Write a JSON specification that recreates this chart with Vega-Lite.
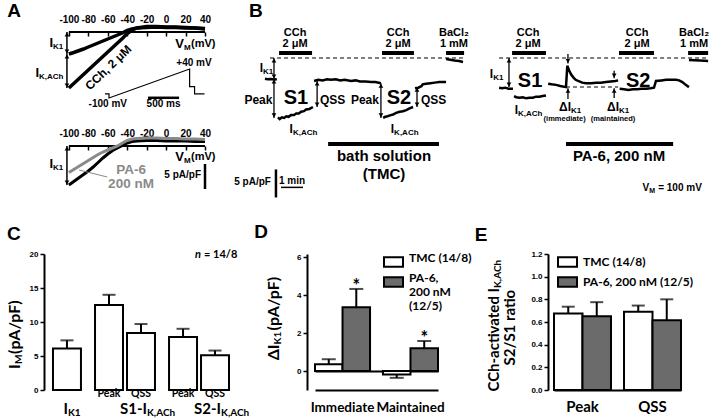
{
"$schema":"https://vega.github.io/schema/vega-lite/v6.json",
"padding":{"left":6,"top":1,"right":0,"bottom":0},
"background":"white",
"config":{
 "view":{"stroke":null},
 "axis":{"grid":false,"domainColor":"black","tickColor":"black","labelColor":"black","labelFont":"Liberation Sans","labelFontWeight":"bold","domainWidth":2,"tickWidth":1.5},
 "text":{"font":"Liberation Sans","fontWeight":"bold","baseline":"middle","color":"black"},
 "rule":{"color":"black"},
 "line":{"color":"black"}
},
"datasets":{
 "cbars":[{"g":"I_K1","s":"QSS","y":6.1,"e":7.3},{"g":"S1","s":"Peak","y":12.5,"e":14.0},{"g":"S1","s":"QSS","y":8.4,"e":9.7},{"g":"S2","s":"Peak","y":7.8,"e":9.0},{"g":"S2","s":"QSS","y":5.1,"e":5.8}],
 "dbars":[{"g":"Immediate","s":"TMC","y":0.36,"e":0.62},{"g":"Immediate","s":"PA-6","y":3.35,"e":4.32},{"g":"Maintained","s":"TMC","y":-0.19,"e":-0.36},{"g":"Maintained","s":"PA-6","y":1.2,"e":1.58}],
 "ebars":[{"g":"Peak","s":"TMC","y":0.675,"e":0.735},{"g":"Peak","s":"PA-6","y":0.65,"e":0.775},{"g":"QSS","s":"TMC","y":0.69,"e":0.745},{"g":"QSS","s":"PA-6","y":0.615,"e":0.8}]
},
"bounds":"full",
"spacing":24,
"resolve":{"scale":{"fill":"independent","color":"independent","xOffset":"independent"},"legend":{"fill":"independent","color":"independent"}},
"vconcat":[
 {
  "bounds":"flush","spacing":56,
  "resolve":{"scale":{"fill":"independent","color":"independent","xOffset":"independent"},"legend":{"fill":"independent","color":"independent"}},
  "hconcat":[
   {
    "width":161,"height":160,
    "resolve":{"scale":{"x":"independent","y":"independent","color":"independent"},"axis":{"x":"independent","y":"independent"}},
    "layer":[
     {
      "encoding":{
       "x":{"field":"x","type":"quantitative","scale":{"domain":[-125.6,40],"nice":false,"zero":false},"axis":{"orient":"top","values":[-100,-80,-60,-40,-20,0,20,40],"labelExpr":"replace(datum.label, '−', '-')","domain":false,"tickSize":-4,"labelPadding":12,"labelFontSize":10,"labelFlush":false,"labelOverlap":false,"title":null}},
       "y":{"field":"y","type":"quantitative","scale":{"domain":[-32,0],"nice":false,"zero":false},"axis":null}
      },
      "layer":[
       {"data":{"values":[{"x":-100,"x2":40,"y":0}]},"mark":{"type":"rule","strokeWidth":2},"encoding":{"x2":{"field":"x2"}}},
       {"data":{"values":[
        {"c":"ctrl","x":-100,"y":-4.4},{"c":"ctrl","x":-95,"y":-4.1},{"c":"ctrl","x":-90,"y":-3.75},{"c":"ctrl","x":-85,"y":-3.4},{"c":"ctrl","x":-80,"y":-3.0},{"c":"ctrl","x":-75,"y":-2.6},{"c":"ctrl","x":-70,"y":-2.2},{"c":"ctrl","x":-65,"y":-1.8},{"c":"ctrl","x":-60,"y":-1.4},{"c":"ctrl","x":-55,"y":-1.0},{"c":"ctrl","x":-50,"y":-0.6},{"c":"ctrl","x":-45,"y":-0.2},{"c":"ctrl","x":-40,"y":0.3},{"c":"ctrl","x":-35,"y":0.6},{"c":"ctrl","x":-30,"y":0.8},{"c":"ctrl","x":-20,"y":0.9},{"c":"ctrl","x":-10,"y":1.0},{"c":"ctrl","x":0,"y":0.9},{"c":"ctrl","x":10,"y":0.9},{"c":"ctrl","x":20,"y":0.8},{"c":"ctrl","x":30,"y":0.8},{"c":"ctrl","x":40,"y":0.7},
        {"c":"cch","x":-100,"y":-11.2},{"c":"cch","x":-95,"y":-10.3},{"c":"cch","x":-90,"y":-9.4},{"c":"cch","x":-85,"y":-8.5},{"c":"cch","x":-80,"y":-7.6},{"c":"cch","x":-75,"y":-6.7},{"c":"cch","x":-70,"y":-5.8},{"c":"cch","x":-65,"y":-4.9},{"c":"cch","x":-60,"y":-4.0},{"c":"cch","x":-55,"y":-3.1},{"c":"cch","x":-50,"y":-2.2},{"c":"cch","x":-45,"y":-1.3},{"c":"cch","x":-40,"y":-0.3},{"c":"cch","x":-35,"y":0.4},{"c":"cch","x":-30,"y":0.8},{"c":"cch","x":-20,"y":1.1},{"c":"cch","x":-10,"y":1.1},{"c":"cch","x":0,"y":1.0},{"c":"cch","x":10,"y":1.0},{"c":"cch","x":20,"y":0.9},{"c":"cch","x":30,"y":0.8},{"c":"cch","x":40,"y":0.6}
       ]},"mark":{"type":"line","strokeWidth":3.5,"color":"black"},"encoding":{"detail":{"field":"c"}}},
       {"data":{"values":[{"x":-102,"y":0,"y2":-4.4},{"x":-102,"y":-4.4,"y2":-11.2}]},"mark":{"type":"rule","strokeWidth":1.5},"encoding":{"y2":{"field":"y2"}}},
       {"data":{"values":[{"x":-102,"y":-0.5,"d":"triangle-up"},{"x":-102,"y":-3.9,"d":"triangle-down"},{"x":-102,"y":-4.9,"d":"triangle-up"},{"x":-102,"y":-10.7,"d":"triangle-down"}]},"mark":{"type":"point","filled":true,"color":"black","size":22,"opacity":1},"encoding":{"shape":{"field":"d","type":"nominal","scale":null}}},
       {"data":{"values":[{"x":-116.3,"y":-2.1,"t":"I"},{"x":-130.7,"y":-8.1,"t":"I"},{"x":18.4,"y":-2.3,"t":"V"}]},"mark":{"type":"text","align":"right","fontSize":13},"encoding":{"text":{"field":"t"}}},
       {"data":{"values":[{"x":-116.3,"y":-2.1,"t":"K1"},{"x":-130.7,"y":-8.1,"t":"K,ACh"},{"x":18.4,"y":-2.3,"t":"M"}]},"mark":{"type":"text","align":"left","fontSize":8,"dy":4},"encoding":{"text":{"field":"t"}}},
       {"data":{"values":[{"x":25.6,"y":-2.3,"t":"(mV)"}]},"mark":{"type":"text","align":"left","fontSize":11},"encoding":{"text":{"field":"t"}}},
       {"data":{"values":[{"x":-59.4,"y":-7.1,"t":"CCh, 2 μM"}]},"mark":{"type":"text","angle":316,"fontSize":12},"encoding":{"text":{"field":"t"}}},
       {"data":{"values":[{"x":-156.4,"y":4.2,"t":"A"}]},"mark":{"type":"text","fontSize":19},"encoding":{"text":{"field":"t"}}}
      ]
     },
     {
      "encoding":{
       "x":{"field":"x","type":"quantitative","scale":{"domain":[-1048,1548],"nice":false,"zero":false},"axis":null},
       "y":{"field":"y","type":"quantitative","scale":{"domain":[-554,218.8],"nice":false,"zero":false},"axis":null}
      },
      "layer":[
       {"data":{"values":[{"i":0,"x":-64,"y":-80},{"i":1,"x":0,"y":-80},{"i":2,"x":0,"y":-100},{"i":3,"x":1300,"y":40},{"i":4,"x":1300,"y":-45},{"i":5,"x":1380,"y":-45},{"i":6,"x":1380,"y":-80},{"i":7,"x":1540,"y":-80}]},"mark":{"type":"line","strokeWidth":1.2,"color":"black"},"encoding":{"order":{"field":"i","type":"quantitative"}}},
       {"data":{"values":[{"x":630,"x2":1130,"y":-99}]},"mark":{"type":"rule","strokeWidth":2.5},"encoding":{"x2":{"field":"x2"}}},
       {"data":{"values":[{"x":-20,"y":-127,"t":"-100 mV"},{"x":880,"y":-127,"t":"500 ms"},{"x":1370,"y":69,"t":"+40 mV"}]},"mark":{"type":"text","fontSize":10},"encoding":{"text":{"field":"t"}}}
      ]
     },
     {
      "encoding":{
       "x":{"field":"x","type":"quantitative","scale":{"domain":[-125.6,40],"nice":false,"zero":false},"axis":{"orient":"bottom","offset":-46,"values":[-100,-80,-60,-40,-20,0,20,40],"labelExpr":"replace(datum.label, '−', '-')","domain":false,"tickSize":4,"labelPadding":-21.5,"labelFontSize":10,"labelFlush":false,"labelOverlap":false,"title":null}},
       "y":{"field":"y","type":"quantitative","scale":{"domain":[-9.2,22.8],"nice":false,"zero":false},"axis":null}
      },
      "layer":[
       {"data":{"values":[{"x":-100,"x2":40,"y":0}]},"mark":{"type":"rule","strokeWidth":2},"encoding":{"x2":{"field":"x2"}}},
       {"data":{"values":[
        {"c":"Control","x":-100,"y":-7.8},{"c":"Control","x":-95,"y":-7.1},{"c":"Control","x":-90,"y":-6.4},{"c":"Control","x":-85,"y":-5.7},{"c":"Control","x":-80,"y":-5.0},{"c":"Control","x":-75,"y":-4.2},{"c":"Control","x":-70,"y":-3.3},{"c":"Control","x":-65,"y":-2.4},{"c":"Control","x":-60,"y":-1.6},{"c":"Control","x":-55,"y":-0.9},{"c":"Control","x":-50,"y":-0.4},{"c":"Control","x":-46,"y":0},{"c":"Control","x":-40,"y":0.6},{"c":"Control","x":-35,"y":0.9},{"c":"Control","x":-30,"y":1.0},{"c":"Control","x":-20,"y":1.1},{"c":"Control","x":-10,"y":1.1},{"c":"Control","x":0,"y":1.0},{"c":"Control","x":10,"y":1.0},{"c":"Control","x":20,"y":1.0},{"c":"Control","x":30,"y":0.9},{"c":"Control","x":40,"y":0.9},
        {"c":"PA-6","x":-100,"y":-5.3},{"c":"PA-6","x":-95,"y":-4.7},{"c":"PA-6","x":-90,"y":-4.1},{"c":"PA-6","x":-85,"y":-3.5},{"c":"PA-6","x":-80,"y":-2.9},{"c":"PA-6","x":-75,"y":-2.3},{"c":"PA-6","x":-70,"y":-1.7},{"c":"PA-6","x":-65,"y":-1.2},{"c":"PA-6","x":-60,"y":-0.8},{"c":"PA-6","x":-55,"y":-0.4},{"c":"PA-6","x":-50,"y":0},{"c":"PA-6","x":-45,"y":0.6},{"c":"PA-6","x":-40,"y":1.1},{"c":"PA-6","x":-35,"y":1.4},{"c":"PA-6","x":-30,"y":1.5},{"c":"PA-6","x":-20,"y":1.6},{"c":"PA-6","x":-10,"y":1.6},{"c":"PA-6","x":0,"y":1.5},{"c":"PA-6","x":10,"y":1.5},{"c":"PA-6","x":20,"y":1.4},{"c":"PA-6","x":30,"y":1.4},{"c":"PA-6","x":40,"y":1.3}
       ]},"mark":{"type":"line","strokeWidth":3},"encoding":{"color":{"field":"c","type":"nominal","scale":{"domain":["Control","PA-6"],"range":["black","#8a8a8a"]},"legend":null}}},
       {"data":{"values":[{"x":-102,"y":0,"y2":-7.8}]},"mark":{"type":"rule","strokeWidth":1.5},"encoding":{"y2":{"field":"y2"}}},
       {"data":{"values":[{"x":-102,"y":-0.5,"d":"triangle-up"},{"x":-102,"y":-7.3,"d":"triangle-down"}]},"mark":{"type":"point","filled":true,"color":"black","size":22,"opacity":1},"encoding":{"shape":{"field":"d","type":"nominal","scale":null}}},
       {"data":{"values":[{"x":-116.3,"y":-3.6,"t":"I"},{"x":18.4,"y":-2.2,"t":"V"}]},"mark":{"type":"text","align":"right","fontSize":13},"encoding":{"text":{"field":"t"}}},
       {"data":{"values":[{"x":-116.3,"y":-3.6,"t":"K1"},{"x":18.4,"y":-2.2,"t":"M"}]},"mark":{"type":"text","align":"left","fontSize":8,"dy":4},"encoding":{"text":{"field":"t"}}},
       {"data":{"values":[{"x":25.6,"y":-2.2,"t":"(mV)"}]},"mark":{"type":"text","align":"left","fontSize":11},"encoding":{"text":{"field":"t"}}},
       {"data":{"values":[{"x":-36.1,"y":-4.85,"t":"PA-6"},{"x":-36.1,"y":-7.6,"t":"200 nM"}]},"mark":{"type":"text","fontSize":13.5,"color":"#8a8a8a"},"encoding":{"text":{"field":"t"}}},
       {"data":{"values":[{"x":-89.6,"y":-4.8,"x2":-60.5,"y2":-6.2}]},"mark":{"type":"rule","strokeWidth":1,"color":"#8a8a8a"},"encoding":{"x2":{"field":"x2"},"y2":{"field":"y2"}}},
       {"data":{"values":[{"x":40,"y":-3.6,"y2":-8.6}]},"mark":{"type":"rule","strokeWidth":2.5},"encoding":{"y2":{"field":"y2"}}},
       {"data":{"values":[{"x":35.9,"y":-5.7,"t":"5 pA/pF"}]},"mark":{"type":"text","align":"right","fontSize":10},"encoding":{"text":{"field":"t"}}}
      ]
     }
    ]
   },
   {
    "width":448,"height":164,
    "encoding":{
     "x":{"field":"x","type":"quantitative","scale":{"domain":[0,20.36],"nice":false,"zero":false},"axis":null},
     "y":{"field":"y","type":"quantitative","scale":{"domain":[-24.64,4.64],"nice":false,"zero":false},"axis":null}
    },
    "layer":[
     {"data":{"values":[{"x":0.41,"x2":9.18,"y":0},{"x":10.82,"x2":20.32,"y":0},{"x":13.86,"x2":16.23,"y":-5.18}]},"mark":{"type":"rule","strokeWidth":1,"strokeDash":[4,3]},"encoding":{"x2":{"field":"x2"}}},
     {"data":{"values":[{"x":0.82,"x2":2.32,"y":0.89},{"x":5.5,"x2":6.95,"y":0.89},{"x":8.41,"x2":9.23,"y":0.89},{"x":11.41,"x2":12.95,"y":0.89},{"x":16.27,"x2":17.86,"y":0.89},{"x":19.41,"x2":20.32,"y":0.89},{"x":3.05,"x2":8.09,"y":-15.36},{"x":13.86,"x2":18.73,"y":-15.36}]},"mark":{"type":"rule","strokeWidth":4},"encoding":{"x2":{"field":"x2"}}},
     {"data":{"values":[
      {"seg":"L1","x":0.18,"y":-3.7},{"seg":"L1","x":0.3,"y":-3.8},{"seg":"L1","x":0.45,"y":-3.75},{"seg":"L1","x":0.6,"y":-3.85},{"seg":"L1","x":0.72,"y":-3.8},
      {"seg":"L2","x":0.77,"y":-10.6},{"seg":"L2","x":0.85,"y":-10.9},{"seg":"L2","x":0.95,"y":-10.6},{"seg":"L2","x":1.05,"y":-10.7},{"seg":"L2","x":1.15,"y":-10.4},{"seg":"L2","x":1.25,"y":-10.5},{"seg":"L2","x":1.36,"y":-10.2},{"seg":"L2","x":1.5,"y":-10.2},{"seg":"L2","x":1.6,"y":-9.9},{"seg":"L2","x":1.72,"y":-9.9},{"seg":"L2","x":1.82,"y":-9.6},{"seg":"L2","x":1.95,"y":-9.5},{"seg":"L2","x":2.05,"y":-9.2},{"seg":"L2","x":2.2,"y":-9.1},{"seg":"L2","x":2.36,"y":-8.75},
      {"seg":"L3","x":2.41,"y":-4.1},{"seg":"L3","x":2.6,"y":-3.9},{"seg":"L3","x":2.8,"y":-4.0},{"seg":"L3","x":3.0,"y":-3.8},{"seg":"L3","x":3.18,"y":-3.9},{"seg":"L3","x":3.4,"y":-3.8},{"seg":"L3","x":3.6,"y":-4.0},{"seg":"L3","x":3.8,"y":-3.9},{"seg":"L3","x":4.09,"y":-4.1},{"seg":"L3","x":4.3,"y":-4.0},{"seg":"L3","x":4.5,"y":-4.2},{"seg":"L3","x":4.75,"y":-4.2},{"seg":"L3","x":5.0,"y":-4.3},{"seg":"L3","x":5.2,"y":-4.3},{"seg":"L3","x":5.45,"y":-4.5},
      {"seg":"L4","x":5.55,"y":-10.7},{"seg":"L4","x":5.65,"y":-10.5},{"seg":"L4","x":5.75,"y":-10.4},{"seg":"L4","x":5.9,"y":-10.2},{"seg":"L4","x":6.0,"y":-10.1},{"seg":"L4","x":6.14,"y":-9.8},{"seg":"L4","x":6.3,"y":-9.6},{"seg":"L4","x":6.45,"y":-9.5},{"seg":"L4","x":6.6,"y":-9.3},{"seg":"L4","x":6.75,"y":-9.0},{"seg":"L4","x":6.91,"y":-8.75},
      {"seg":"L5","x":7.0,"y":-5.4},{"seg":"L5","x":7.15,"y":-5.3},{"seg":"L5","x":7.3,"y":-5.0},{"seg":"L5","x":7.35,"y":-4.7},{"seg":"L5","x":7.5,"y":-4.6},{"seg":"L5","x":7.7,"y":-4.5},{"seg":"L5","x":7.9,"y":-4.4},{"seg":"L5","x":8.1,"y":-4.3},{"seg":"L5","x":8.41,"y":-4.3},
      {"seg":"L6","x":8.41,"y":-0.2},{"seg":"L6","x":8.6,"y":-0.3},{"seg":"L6","x":8.8,"y":-0.45},{"seg":"L6","x":9.0,"y":-0.55},{"seg":"L6","x":9.18,"y":-0.7},
      {"seg":"R1","x":10.82,"y":-5.3},{"seg":"R1","x":10.95,"y":-5.4},{"seg":"R1","x":11.1,"y":-5.3},{"seg":"R1","x":11.25,"y":-5.5},{"seg":"R1","x":11.45,"y":-5.5},
      {"seg":"R2","x":11.5,"y":-6.8},{"seg":"R2","x":11.6,"y":-7.0},{"seg":"R2","x":11.75,"y":-7.1},{"seg":"R2","x":11.9,"y":-7.0},{"seg":"R2","x":12.05,"y":-7.2},{"seg":"R2","x":12.2,"y":-7.1},{"seg":"R2","x":12.35,"y":-7.1},{"seg":"R2","x":12.5,"y":-6.9},{"seg":"R2","x":12.65,"y":-6.9},{"seg":"R2","x":12.8,"y":-6.8},{"seg":"R2","x":12.95,"y":-6.7},
      {"seg":"R3","x":13.05,"y":-4.6},{"seg":"R3","x":13.2,"y":-4.7},{"seg":"R3","x":13.41,"y":-4.8},{"seg":"R3","x":13.6,"y":-5.0},{"seg":"R3","x":13.86,"y":-5.2},{"seg":"R3","x":13.92,"y":-1.4},{"seg":"R3","x":14.0,"y":-2.2},{"seg":"R3","x":14.09,"y":-2.9},{"seg":"R3","x":14.2,"y":-3.5},{"seg":"R3","x":14.3,"y":-3.9},{"seg":"R3","x":14.41,"y":-4.1},{"seg":"R3","x":14.6,"y":-4.4},{"seg":"R3","x":14.77,"y":-4.5},{"seg":"R3","x":15.0,"y":-4.5},{"seg":"R3","x":15.23,"y":-4.4},{"seg":"R3","x":15.45,"y":-4.4},{"seg":"R3","x":15.68,"y":-4.3},{"seg":"R3","x":15.9,"y":-4.2},{"seg":"R3","x":16.1,"y":-4.1},{"seg":"R3","x":16.23,"y":-4.0},
      {"seg":"R4","x":16.3,"y":-5.5},{"seg":"R4","x":16.5,"y":-5.6},{"seg":"R4","x":16.7,"y":-5.7},{"seg":"R4","x":16.9,"y":-5.6},{"seg":"R4","x":17.1,"y":-5.6},{"seg":"R4","x":17.3,"y":-5.5},{"seg":"R4","x":17.5,"y":-5.5},{"seg":"R4","x":17.7,"y":-5.4},{"seg":"R4","x":17.86,"y":-5.3},{"seg":"R4","x":17.95,"y":-4.1},{"seg":"R4","x":18.2,"y":-4.0},{"seg":"R4","x":18.41,"y":-3.9},{"seg":"R4","x":18.6,"y":-3.9},{"seg":"R4","x":18.86,"y":-3.9},{"seg":"R4","x":19.0,"y":-4.0},{"seg":"R4","x":19.15,"y":-4.3},{"seg":"R4","x":19.3,"y":-4.8},{"seg":"R4","x":19.45,"y":-5.2},
      {"seg":"R5","x":19.45,"y":-0.35},{"seg":"R5","x":19.7,"y":-0.4},{"seg":"R5","x":19.95,"y":-0.45},{"seg":"R5","x":20.15,"y":-0.5},{"seg":"R5","x":20.32,"y":-0.55}
     ]},"mark":{"type":"line","strokeWidth":2.5,"color":"black"},"encoding":{"detail":{"field":"seg"}}},
     {"data":{"values":[{"x":0.59,"y":0,"y2":-3.75},{"x":0.59,"y":-3.75,"y2":-10.7},{"x":2.55,"y":-4.1,"y2":-8.75},{"x":5.45,"y":-4.5,"y2":-10.7},{"x":7.09,"y":-5.2,"y2":-8.75},{"x":11.27,"y":0,"y2":-5.2},{"x":13.95,"y":0.7,"y2":-1.0},{"x":13.95,"y":-7.3,"y2":-5.4},{"x":16.05,"y":-2.3,"y2":-3.6},{"x":16.05,"y":-7.14,"y2":-5.4}]},"mark":{"type":"rule","strokeWidth":1.3},"encoding":{"y2":{"field":"y2"}}},
     {"data":{"values":[{"x":0.59,"y":-0.45,"d":"triangle-up"},{"x":0.59,"y":-3.3,"d":"triangle-down"},{"x":0.59,"y":-4.2,"d":"triangle-up"},{"x":0.59,"y":-10.25,"d":"triangle-down"},{"x":2.55,"y":-4.55,"d":"triangle-up"},{"x":2.55,"y":-8.3,"d":"triangle-down"},{"x":5.45,"y":-4.95,"d":"triangle-up"},{"x":5.45,"y":-10.25,"d":"triangle-down"},{"x":7.09,"y":-5.65,"d":"triangle-up"},{"x":7.09,"y":-8.3,"d":"triangle-down"},{"x":11.27,"y":-0.45,"d":"triangle-up"},{"x":11.27,"y":-4.75,"d":"triangle-down"},{"x":13.95,"y":-0.55,"d":"triangle-down"},{"x":13.95,"y":-5.85,"d":"triangle-up"},{"x":16.05,"y":-3.15,"d":"triangle-down"},{"x":16.05,"y":-5.85,"d":"triangle-up"}]},"mark":{"type":"point","filled":true,"color":"black","size":22,"opacity":1},"encoding":{"shape":{"field":"d","type":"nominal","scale":null}}},
     {"data":{"values":[{"x":0.68,"y":-19.9,"y2":-24.9}]},"mark":{"type":"rule","strokeWidth":2.5},"encoding":{"y2":{"field":"y2"}}},
     {"data":{"values":[{"x":0.91,"x2":1.91,"y":-23.1}]},"mark":{"type":"rule","strokeWidth":1.5},"encoding":{"x2":{"field":"x2"}}},
     {"data":{"values":[{"x":1.55,"y":4.5,"t":"CCh"},{"x":1.55,"y":2.45,"t":"2 μM"},{"x":6.23,"y":4.5,"t":"CCh"},{"x":6.23,"y":2.45,"t":"2 μM"},{"x":8.77,"y":4.5,"t":"BaCl₂"},{"x":8.77,"y":2.45,"t":"1 mM"},{"x":12.14,"y":4.5,"t":"CCh"},{"x":12.14,"y":2.45,"t":"2 μM"},{"x":17.09,"y":4.5,"t":"CCh"},{"x":17.09,"y":2.45,"t":"2 μM"},{"x":19.68,"y":4.5,"t":"BaCl₂"},{"x":19.68,"y":2.45,"t":"1 mM"}]},"mark":{"type":"text","fontSize":11},"encoding":{"text":{"field":"t"}}},
     {"data":{"values":[{"x":0.52,"y":-7.5,"t":"Peak"},{"x":5.36,"y":-7.5,"t":"Peak"},{"x":0.09,"y":-1.79,"t":"I"},{"x":1.45,"y":-12.7,"t":"I"},{"x":6.05,"y":-12.7,"t":"I"},{"x":10.55,"y":-2.8,"t":"I"},{"x":11.68,"y":-9.2,"t":"I"},{"x":14.09,"y":-8.75,"t":"ΔI"},{"x":16.27,"y":-8.75,"t":"ΔI"}]},"mark":{"type":"text","align":"right","fontSize":12},"encoding":{"text":{"field":"t"}}},
     {"data":{"values":[{"x":0.09,"y":-1.79,"t":"K1"},{"x":1.45,"y":-12.7,"t":"K,ACh"},{"x":6.05,"y":-12.7,"t":"K,ACh"},{"x":10.55,"y":-2.8,"t":"K1"},{"x":11.68,"y":-9.2,"t":"K,ACh"},{"x":14.09,"y":-8.75,"t":"K1"},{"x":16.27,"y":-8.75,"t":"K1"}]},"mark":{"type":"text","align":"left","fontSize":8,"dy":4},"encoding":{"text":{"field":"t"}}},
     {"data":{"values":[{"x":2.68,"y":-7.5,"t":"QSS"},{"x":7.27,"y":-7.5,"t":"QSS"}]},"mark":{"type":"text","align":"left","fontSize":12},"encoding":{"text":{"field":"t"}}},
     {"data":{"values":[{"x":1.59,"y":-7.1,"t":"S1"},{"x":6.27,"y":-7.1,"t":"S2"},{"x":12.23,"y":-4.1,"t":"S1"},{"x":17.14,"y":-4.1,"t":"S2"}]},"mark":{"type":"text","fontSize":20},"encoding":{"text":{"field":"t"}}},
     {"data":{"values":[{"x":5.59,"y":-17.5,"t":"bath solution"},{"x":5.59,"y":-20.7,"t":"(TMC)"},{"x":16.27,"y":-17.5,"t":"PA-6, 200 nM"}]},"mark":{"type":"text","fontSize":15},"encoding":{"text":{"field":"t"}}},
     {"data":{"values":[{"x":13.8,"y":-10.95,"t":"(immediate)"},{"x":16.0,"y":-10.95,"t":"(maintained)"}]},"mark":{"type":"text","fontSize":7.5},"encoding":{"text":{"field":"t"}}},
     {"data":{"values":[{"x":0.45,"y":-22.2,"t":"5 pA/pF"},{"x":17.64,"y":-23.3,"t":"V"}]},"mark":{"type":"text","align":"right","fontSize":10},"encoding":{"text":{"field":"t"}}},
     {"data":{"values":[{"x":1.41,"y":-22.0,"t":"1 min"}]},"mark":{"type":"text","fontSize":10},"encoding":{"text":{"field":"t"}}},
     {"data":{"values":[{"x":17.64,"y":-23.3,"t":"M"}]},"mark":{"type":"text","align":"left","fontSize":7,"dy":3},"encoding":{"text":{"field":"t"}}},
     {"data":{"values":[{"x":18.05,"y":-23.3,"t":"= 100 mV"}]},"mark":{"type":"text","align":"left","fontSize":10},"encoding":{"text":{"field":"t"}}},
     {"data":{"values":[{"x":-0.23,"y":8.4,"t":"B"}]},"mark":{"type":"text","fontSize":19},"encoding":{"text":{"field":"t"}}}
    ]
   }
  ]
 },
 {
  "bounds":"flush","spacing":111,
  "resolve":{"scale":{"fill":"independent","color":"independent","xOffset":"independent"},"legend":{"fill":"independent","color":"independent"}},
  "hconcat":[
   {
    "width":152,"height":136,
    "encoding":{
     "x":{"field":"g","type":"nominal","scale":{"domain":["I_K1","S1","S2"],"range":[-23,185],"paddingInner":0.19,"paddingOuter":0},"axis":null},
     "y":{"field":"y","type":"quantitative","scale":{"domain":[0,20],"nice":false},"axis":{"values":[0,5,10,15,20],"labelFontSize":8,"tickSize":4,"labelPadding":2,"title":null}}
    },
    "layer":[
     {"data":{"name":"cbars"},"mark":{"type":"rule","strokeWidth":2},"encoding":{"xOffset":{"field":"s","type":"nominal","scale":{"domain":["Peak","QSS"],"paddingInner":0.125,"paddingOuter":0}},"y2":{"field":"e"}}},
     {"data":{"name":"cbars"},"mark":{"type":"tick","size":13,"thickness":2,"color":"black"},"encoding":{"xOffset":{"field":"s","type":"nominal","scale":{"domain":["Peak","QSS"],"paddingInner":0.125,"paddingOuter":0}},"y":{"field":"e","type":"quantitative","scale":{"domain":[0,20],"nice":false},"axis":{"values":[0,5,10,15,20],"labelFontSize":8,"tickSize":4,"labelPadding":2,"title":null}}}},
     {"data":{"name":"cbars"},"mark":{"type":"bar","fill":"white","stroke":"black","strokeWidth":2},"encoding":{"xOffset":{"field":"s","type":"nominal","scale":{"domain":["Peak","QSS"],"paddingInner":0.125,"paddingOuter":0}}}},
     {"data":{"values":[{"g":"S1","s":"Peak","y":-0.6,"t":"Peak"},{"g":"S1","s":"QSS","y":-0.6,"t":"QSS"},{"g":"S2","s":"Peak","y":-0.6,"t":"Peak"},{"g":"S2","s":"QSS","y":-0.6,"t":"QSS"}]},"mark":{"type":"text","font":"Lato","fontSize":10.5},"encoding":{"xOffset":{"field":"s","type":"nominal","scale":{"domain":["Peak","QSS"],"paddingInner":0.125,"paddingOuter":0}},"text":{"field":"t"}}},
     {"data":{"values":[{"g":"I_K1","s":"QSS","y":-2.8,"t":"I"}]},"mark":{"type":"text","font":"Lato","fontSize":15,"align":"right","dx":1},"encoding":{"xOffset":{"field":"s","type":"nominal","scale":{"domain":["Peak","QSS"],"paddingInner":0.125,"paddingOuter":0}},"text":{"field":"t"}}},
     {"data":{"values":[{"g":"I_K1","s":"QSS","y":-2.8,"t":"K1"}]},"mark":{"type":"text","font":"Lato","fontSize":10,"align":"left","dx":1,"dy":4},"encoding":{"xOffset":{"field":"s","type":"nominal","scale":{"domain":["Peak","QSS"],"paddingInner":0.125,"paddingOuter":0}},"text":{"field":"t"}}},
     {"data":{"values":[{"g":"S1","y":-2.8,"t":"S1-I"},{"g":"S2","y":-2.8,"t":"S2-I"}]},"mark":{"type":"text","font":"Lato","fontSize":15,"align":"right","dx":22},"encoding":{"text":{"field":"t"}}},
     {"data":{"values":[{"g":"S1","y":-2.8,"t":"K,ACh"},{"g":"S2","y":-2.8,"t":"K,ACh"}]},"mark":{"type":"text","font":"Lato","fontSize":10,"align":"left","dx":22,"dy":4},"encoding":{"text":{"field":"t"}}},
     {"data":{"values":[{"g":"I_K1","y":3.1,"t":"I"}]},"mark":{"type":"text","font":"Lato","fontSize":16,"angle":270,"align":"left","dy":-36},"encoding":{"text":{"field":"t"}}},
     {"data":{"values":[{"g":"I_K1","y":3.1,"t":"M"}]},"mark":{"type":"text","font":"Lato","fontSize":10,"angle":270,"align":"left","dx":5,"dy":-32},"encoding":{"text":{"field":"t"}}},
     {"data":{"values":[{"g":"I_K1","y":3.1,"t":"(pA/pF)"}]},"mark":{"type":"text","font":"Lato","fontSize":16,"angle":270,"align":"left","dx":15,"dy":-36},"encoding":{"text":{"field":"t"}}},
     {"data":{"values":[{"g":"I_K1","y":22.9,"t":"C"}]},"mark":{"type":"text","fontSize":19,"dx":-37},"encoding":{"text":{"field":"t"}}},
     {"data":{"values":[{"g":"S2","y":19.9,"t":"n"}]},"mark":{"type":"text","font":"Lato","fontSize":11,"fontStyle":"italic","align":"right","dx":2},"encoding":{"text":{"field":"t"}}},
     {"data":{"values":[{"g":"S2","y":19.9,"t":"= 14/8"}]},"mark":{"type":"text","font":"Lato","fontSize":11,"align":"left","dx":5},"encoding":{"text":{"field":"t"}}}
    ]
   },
   {
    "width":130,"height":136,
    "encoding":{
     "x":{"field":"g","type":"nominal","scale":{"domain":["Immediate","Maintained"],"range":[8,131],"paddingInner":0.19,"paddingOuter":0},"axis":{"orient":"bottom","ticks":false,"domain":false,"labelFont":"Lato","labelFontSize":13.5,"labelPadding":10,"labelAngle":0,"title":null}},
     "y":{"field":"y","type":"quantitative","scale":{"domain":[-1,6.16],"nice":false,"zero":false},"axis":{"values":[-1,0,2,4,6],"labelExpr":"datum.value === -1 ? '' : datum.label","labelFontSize":8,"tickSize":4,"labelPadding":2,"title":null,"grid":true,"gridColor":"black","gridWidth":2,"gridOpacity":{"condition":{"test":"datum.value === 0 || datum.value === -1","value":1},"value":0},"tickOpacity":{"condition":{"test":"datum.value === -1","value":0},"value":1}}}
    },
    "layer":[
     {"data":{"name":"dbars"},"mark":{"type":"rule","strokeWidth":2},"encoding":{"xOffset":{"field":"s","type":"nominal","scale":{"domain":["TMC","PA-6"],"paddingInner":0,"paddingOuter":0}},"y2":{"field":"e"}}},
     {"data":{"name":"dbars"},"mark":{"type":"tick","size":14,"thickness":2,"color":"black"},"encoding":{"xOffset":{"field":"s","type":"nominal","scale":{"domain":["TMC","PA-6"],"paddingInner":0,"paddingOuter":0}},"y":{"field":"e","type":"quantitative","scale":{"domain":[-1,6.16],"nice":false,"zero":false},"axis":{"values":[-1,0,2,4,6],"labelExpr":"datum.value === -1 ? '' : datum.label","labelFontSize":8,"tickSize":4,"labelPadding":2,"title":null,"grid":true,"gridColor":"black","gridWidth":2,"gridOpacity":{"condition":{"test":"datum.value === 0 || datum.value === -1","value":1},"value":0},"tickOpacity":{"condition":{"test":"datum.value === -1","value":0},"value":1}}}}},
     {"data":{"name":"dbars"},"mark":{"type":"bar","stroke":"black","strokeWidth":2},"encoding":{"xOffset":{"field":"s","type":"nominal","scale":{"domain":["TMC","PA-6"],"paddingInner":0,"paddingOuter":0}},"fill":{"field":"s","type":"nominal","scale":{"domain":["TMC","PA-6"],"range":["white","#6b6b6b"]},"legend":{"orient":"none","legendX":76,"legendY":-2.5,"title":null,"symbolType":"M-1,-0.5H1V0.5H-1Z","symbolSize":361,"symbolStrokeColor":"black","symbolStrokeWidth":2,"labelFont":"Lato","labelFontSize":12,"labelFontWeight":"bold","labelColor":"black","rowPadding":0,"labelOffset":5,"labelBaseline":"alphabetic","padding":0,"labelExpr":"datum.value === 'PA-6' ? ['PA-6,', '200 nM', '(12/5)'] : 'TMC (14/8)'"}}}},
     {"data":{"name":"dbars"},"transform":[{"filter":"datum.s === 'PA-6'"}],"mark":{"type":"text","text":"*","font":"Lato","fontSize":18,"dy":-2},"encoding":{"xOffset":{"field":"s","type":"nominal","scale":{"domain":["TMC","PA-6"],"paddingInner":0,"paddingOuter":0}},"y":{"field":"e","type":"quantitative","scale":{"domain":[-1,6.16],"nice":false,"zero":false},"axis":{"values":[-1,0,2,4,6],"labelExpr":"datum.value === -1 ? '' : datum.label","labelFontSize":8,"tickSize":4,"labelPadding":2,"title":null,"grid":true,"gridColor":"black","gridWidth":2,"gridOpacity":{"condition":{"test":"datum.value === 0 || datum.value === -1","value":1},"value":0},"tickOpacity":{"condition":{"test":"datum.value === -1","value":0},"value":1}}}}},
     {"data":{"values":[{"g":"Immediate","y":1.4,"t":"ΔI"}]},"mark":{"type":"text","font":"Lato","fontSize":16,"angle":270,"align":"right","dy":-68.5},"encoding":{"text":{"field":"t"}}},
     {"data":{"values":[{"g":"Immediate","y":1.4,"t":"K1"}]},"mark":{"type":"text","font":"Lato","fontSize":10,"angle":270,"align":"left","dy":-64.5},"encoding":{"text":{"field":"t"}}},
     {"data":{"values":[{"g":"Immediate","y":1.4,"t":"(pA/pF)"}]},"mark":{"type":"text","font":"Lato","fontSize":16,"angle":270,"align":"left","dx":14,"dy":-68.5},"encoding":{"text":{"field":"t"}}},
     {"data":{"values":[{"g":"Immediate","y":7.3,"t":"D"}]},"mark":{"type":"text","fontSize":19,"dx":-81.5},"encoding":{"text":{"field":"t"}}}
    ]
   },
   {
    "width":138,"height":136,
    "encoding":{
     "x":{"field":"g","type":"nominal","scale":{"domain":["Peak","QSS"],"range":[6,133],"paddingInner":0.186,"paddingOuter":0},"axis":{"orient":"bottom","ticks":false,"domain":false,"labelFont":"Lato","labelFontSize":15,"labelPadding":9,"labelAngle":0,"title":null}},
     "y":{"field":"y","type":"quantitative","scale":{"domain":[0,1.2],"nice":false},"axis":{"values":[0,0.2,0.4,0.6,0.8,1,1.2],"format":".1f","labelFontSize":8,"tickSize":4,"labelPadding":2,"title":null,"grid":true,"gridColor":"black","gridWidth":2,"gridOpacity":{"condition":{"test":"datum.value === 0","value":1},"value":0}}}
    },
    "layer":[
     {"data":{"name":"ebars"},"mark":{"type":"rule","strokeWidth":2},"encoding":{"xOffset":{"field":"s","type":"nominal","scale":{"domain":["TMC","PA-6"],"paddingInner":0,"paddingOuter":0}},"y2":{"field":"e"}}},
     {"data":{"name":"ebars"},"mark":{"type":"tick","size":13,"thickness":2,"color":"black"},"encoding":{"xOffset":{"field":"s","type":"nominal","scale":{"domain":["TMC","PA-6"],"paddingInner":0,"paddingOuter":0}},"y":{"field":"e","type":"quantitative","scale":{"domain":[0,1.2],"nice":false},"axis":{"values":[0,0.2,0.4,0.6,0.8,1,1.2],"format":".1f","labelFontSize":8,"tickSize":4,"labelPadding":2,"title":null,"grid":true,"gridColor":"black","gridWidth":2,"gridOpacity":{"condition":{"test":"datum.value === 0","value":1},"value":0}}}}},
     {"data":{"name":"ebars"},"mark":{"type":"bar","stroke":"black","strokeWidth":2},"encoding":{"xOffset":{"field":"s","type":"nominal","scale":{"domain":["TMC","PA-6"],"paddingInner":0,"paddingOuter":0}},"fill":{"field":"s","type":"nominal","scale":{"domain":["TMC","PA-6"],"range":["white","#6b6b6b"]},"legend":{"orient":"none","legendX":9,"legendY":-2.5,"title":null,"symbolType":"M-1,-0.5H1V0.5H-1Z","symbolSize":361,"symbolStrokeColor":"black","symbolStrokeWidth":2,"labelFont":"Lato","labelFontSize":12,"labelFontWeight":"bold","labelColor":"black","rowPadding":0,"labelOffset":5,"labelBaseline":"middle","padding":0,"labelExpr":"datum.value === 'PA-6' ? 'PA-6, 200 nM (12/5)' : 'TMC (14/8)'"}}}},
     {"data":{"values":[{"g":"Peak","y":0.9,"t":"CCh-activated I"}]},"mark":{"type":"text","font":"Lato","fontSize":15,"angle":270,"align":"right","dy":-88.5},"encoding":{"text":{"field":"t"}}},
     {"data":{"values":[{"g":"Peak","y":0.9,"t":"K,ACh"}]},"mark":{"type":"text","font":"Lato","fontSize":10,"angle":270,"align":"left","dy":-84.5},"encoding":{"text":{"field":"t"}}},
     {"data":{"values":[{"g":"Peak","y":0.55,"t":"S2/S1 ratio"}]},"mark":{"type":"text","font":"Lato","fontSize":15,"angle":270,"dy":-72},"encoding":{"text":{"field":"t"}}},
     {"data":{"values":[{"g":"Peak","y":1.37,"t":"E"}]},"mark":{"type":"text","fontSize":19,"dx":-101.5},"encoding":{"text":{"field":"t"}}}
    ]
   }
  ]
 }
]
}
